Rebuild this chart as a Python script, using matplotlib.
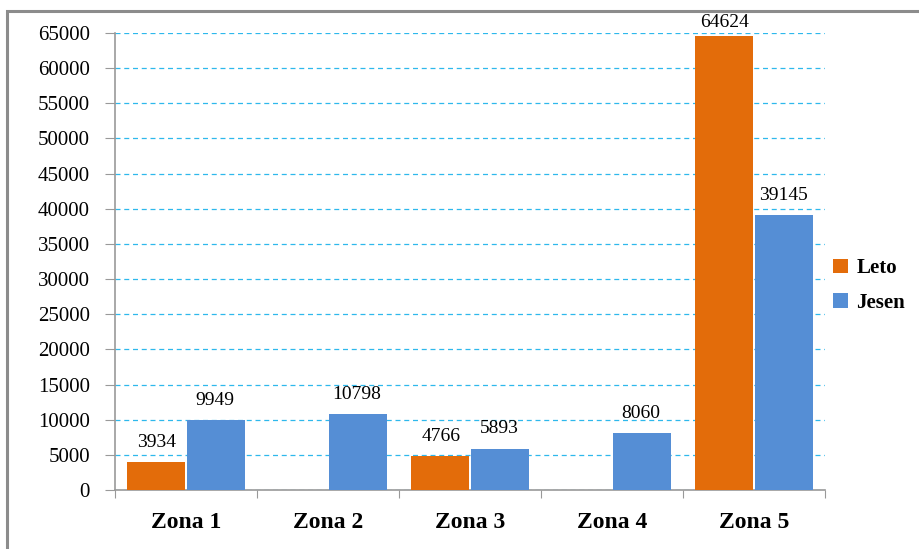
import numpy as np
import matplotlib
matplotlib.use("Agg")
import matplotlib.pyplot as plt
from matplotlib.patches import Rectangle

zones = ["Zona 1", "Zona 2", "Zona 3", "Zona 4", "Zona 5"]
leto = [3934, np.nan, 4766, np.nan, 64624]
jesen = [9949, 10798, 5893, 8060, 39145]
yticks = list(range(0, 65001, 5000))

plt.rcParams["font.family"] = ["Liberation Serif", "DejaVu Serif"]

fig = plt.figure(figsize=(9.2, 5.49), dpi=100)
ax = fig.add_axes([115 / 920, 1 - 490 / 549, 710 / 920, 457 / 549])

# outer frame
fig.patches.append(Rectangle((7 / 920, -0.1), 1.2, 1 - 11 / 549 + 0.1,
                             transform=fig.transFigure, fill=False,
                             edgecolor="#8c8c8c", linewidth=2.2))

x = np.arange(len(zones))
w = 0.41
orange = "#E36C0A"
blue = "#558ED5"
ax.bar(x - w / 2 - 0.007, leto, w, color=orange, label="Leto", zorder=3)
ax.bar(x + w / 2 + 0.007, jesen, w, color=blue, label="Jesen", zorder=3)


def label_y(v):
    # labels stay inside the plot area like Excel does
    return min(v + 1600, 65300)


for i in range(len(zones)):
    if not np.isnan(leto[i]):
        ax.text(x[i] - w / 2, label_y(leto[i]), str(leto[i]), ha="center", va="bottom", fontsize=14)
    ax.text(x[i] + w / 2, label_y(jesen[i]), str(jesen[i]), ha="center", va="bottom", fontsize=14)

ax.set_xlim(-0.5, len(zones) - 0.5)
ax.set_ylim(0, 65000)
ax.set_yticks(yticks)
ax.set_yticklabels([str(v) for v in yticks], fontsize=15)
ax.yaxis.grid(True, color="#2EB8EC", linestyle=(0, (4, 3)), linewidth=0.9, zorder=0)

ax.set_xticks(np.arange(-0.5, len(zones), 1.0))
ax.set_xticklabels([])
ax.set_xticks(x, minor=True)
ax.set_xticklabels(zones, minor=True, fontsize=17, fontweight="bold")
ax.tick_params(axis="x", which="minor", length=0, pad=16)
ax.tick_params(axis="x", which="major", length=6, color="#999999", direction="out")
ax.tick_params(axis="y", length=7, color="#999999", pad=11)

for s in ["top", "right"]:
    ax.spines[s].set_visible(False)
for s in ["left", "bottom"]:
    ax.spines[s].set_color("#999999")
    ax.spines[s].set_linewidth(1.2)

leg = ax.legend(loc="center left", bbox_to_anchor=(1.0, 0.447), frameon=False,
                prop={"size": 15, "weight": "bold"}, handlelength=0.7,
                handleheight=0.7, handletextpad=0.4, labelspacing=0.7,
                borderaxespad=0.0)

fig.savefig("out.png", dpi=100)
